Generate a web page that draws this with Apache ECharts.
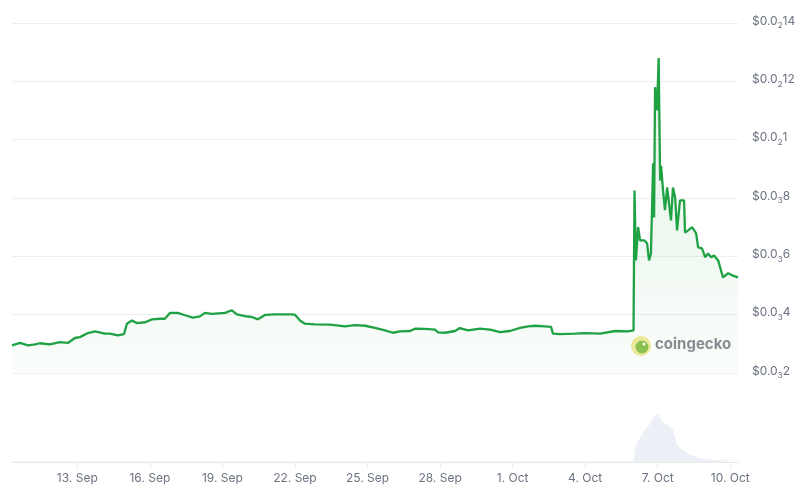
<!DOCTYPE html>
<html>
<head>
<meta charset="utf-8">
<script src="https://cdn.jsdelivr.net/npm/echarts@6/dist/echarts.min.js"></script>
<style>
html,body{margin:0;padding:0;background:#fff;}
#chart{width:800px;height:486px;}
</style>
</head>
<body>
<div id="chart"></div>
<script>
// x values are days since 1 Sep (00:00), fractional
const priceDays = [
  9.30, 9.63, 9.96, 10.25, 10.45, 10.87, 11.28, 11.61, 11.90, 12.11, 12.44, 12.73,
  13.14, 13.35, 13.68, 13.93, 14.01, 14.05, 14.26, 14.47, 14.80, 15.09, 15.42, 15.62,
  15.83, 16.16, 16.45, 16.78, 17.07, 17.28, 17.57, 18.11, 18.39, 18.60, 18.93, 19.22,
  19.47, 19.76, 20.17, 20.79, 21.00, 21.21, 21.41, 21.83, 22.45, 23.07, 23.48, 23.90,
  24.31, 24.72, 25.05, 25.34, 25.76, 25.96, 26.38, 26.79, 26.92, 27.20, 27.62, 27.82,
  28.16, 28.65, 29.07, 29.48, 29.89, 30.31, 30.64, 30.93, 31.34, 31.59, 31.67, 31.96,
  32.58, 33.00, 33.62, 34.24, 34.77, 35.00, 35.04, 35.10, 35.19, 35.27, 35.44, 35.56,
  35.64, 35.72, 35.81, 35.85, 35.89, 35.97, 36.04, 36.10, 36.14, 36.22, 36.30, 36.39,
  36.47, 36.55, 36.63, 36.72, 36.80, 36.92, 37.09, 37.13, 37.26, 37.42, 37.59, 37.67,
  37.83, 37.96, 38.08, 38.21, 38.33, 38.50, 38.58, 38.70, 38.91, 39.08, 39.32
];
const prices = [
  0.000295, 0.000303, 0.000295, 0.000298, 0.000302, 0.000298, 0.000306, 0.000303, 0.000320, 0.000323, 0.000337, 0.000343,
  0.000335, 0.000335, 0.000329, 0.000333, 0.000333, 0.000369, 0.000380, 0.000371, 0.000374, 0.000384, 0.000386, 0.000386,
  0.000406, 0.000406, 0.000398, 0.000390, 0.000394, 0.000406, 0.000403, 0.000406, 0.000415, 0.000401, 0.000395, 0.000392,
  0.000384, 0.000399, 0.000401, 0.000401, 0.000400, 0.000380, 0.000369, 0.000367, 0.000366, 0.000360, 0.000364, 0.000362,
  0.000355, 0.000346, 0.000338, 0.000343, 0.000344, 0.000352, 0.000351, 0.000349, 0.000339, 0.000338, 0.000344, 0.000354,
  0.000346, 0.000352, 0.000349, 0.000340, 0.000344, 0.000355, 0.000360, 0.000362, 0.000360, 0.000358, 0.000335, 0.000333,
  0.000335, 0.000337, 0.000335, 0.000344, 0.000343, 0.000346, 0.000826, 0.000586, 0.000700, 0.000655, 0.000655, 0.000645,
  0.000586, 0.000610, 0.000919, 0.000733, 0.001180, 0.001100, 0.001280, 0.000860, 0.000910, 0.000826, 0.000758, 0.000836,
  0.000836, 0.000723, 0.000836, 0.000802, 0.000689, 0.000792, 0.000792, 0.000682, 0.000689, 0.000700, 0.000679, 0.000631,
  0.000627, 0.000597, 0.000610, 0.000597, 0.000603, 0.000586, 0.000590, 0.000528, 0.000542, 0.000535, 0.000528
];
const volumeDays = [9.30, 21.21, 34.86, 35.02, 35.06, 35.15, 35.48, 35.68, 35.89, 36.01, 36.18, 36.43, 36.63, 36.80, 37.05, 37.34, 37.75, 38.37, 39.32];
const volumes =    [0.01, 0.01, 0.01, 0.02, 0.31, 0.40, 0.67, 0.79, 0.96, 1.00, 0.83, 0.77, 0.67, 0.35, 0.25, 0.15, 0.08, 0.04, 0.03];

const xTickDays = [12, 15, 18, 21, 24, 27, 30, 33, 36, 39];
const xTickLabels = ['13. Sep', '16. Sep', '19. Sep', '22. Sep', '25. Sep', '28. Sep', '1. Oct', '4. Oct', '7. Oct', '10. Oct'];
const yTickValues = [0.0002, 0.0004, 0.0006, 0.0008, 0.001, 0.0012, 0.0014];
// [prefix, subscript zero-count, significant digits]
const yTickLabels = [['$0.0','3','2'], ['$0.0','3','4'], ['$0.0','3','6'], ['$0.0','3','8'], ['$0.0','2','1'], ['$0.0','2','12'], ['$0.0','2','14']];

const chart = echarts.init(document.getElementById('chart'), null, {renderer: 'canvas'});
const labelColor = '#6b7280';
const font = 'Inter, "Noto Sans", sans-serif';

const option = {
  animation: false,
  backgroundColor: '#ffffff',
  grid: [
    {left: 12, right: 62, top: 23, bottom: 113},
    {left: 12, right: 62, top: 380, bottom: 24}
  ],
  xAxis: [
    {gridIndex: 0, type: 'value', min: 9.3, max: 39.32, show: false},
    {gridIndex: 1, type: 'value', min: 9.3, max: 39.32,
      axisLine: {show: true, lineStyle: {color: '#e8e8e8', width: 1}},
      axisTick: {show: true, customValues: xTickDays, length: 7, lineStyle: {color: '#eeeeee'}},
      splitLine: {show: false},
      axisLabel: {
        customValues: xTickDays,
        color: labelColor, fontSize: 12, fontFamily: font, margin: 10,
        formatter: function (v) {
          const i = xTickDays.findIndex(d => Math.abs(d - v) < 1e-6);
          return i >= 0 ? xTickLabels[i] : '';
        }
      }
    }
  ],
  yAxis: [
    {gridIndex: 0, type: 'value', position: 'right', min: 0.0002, max: 0.0014, interval: 0.0002,
      axisLine: {show: false}, axisTick: {show: false},
      splitLine: {show: true, lineStyle: {color: '#eeeeee', width: 1}},
      axisLabel: {
        margin: 14, color: labelColor, fontSize: 12, fontFamily: font, align: 'left',
        padding: [0, 0, 8, 0],
        formatter: function (v) {
          const i = yTickValues.findIndex(t => Math.abs(t - v) < 1e-9);
          if (i < 0) return '';
          const l = yTickLabels[i];
          return '{m|' + l[0] + '}{s|' + l[1] + '}{m|' + l[2] + '}';
        },
        rich: {
          m: {fontSize: 12, color: labelColor, fontFamily: font, verticalAlign: 'bottom', lineHeight: 16},
          s: {fontSize: 8, color: labelColor, fontFamily: font, verticalAlign: 'bottom', lineHeight: 16, padding: [0, 0, -3, 0]}
        }
      }
    },
    {gridIndex: 1, type: 'value', min: 0, max: 1.7, show: false, splitLine: {show: false}}
  ],
  series: [
    {
      type: 'line', xAxisIndex: 1, yAxisIndex: 1,
      data: volumeDays.map((d, i) => [d, volumes[i]]),
      showSymbol: false, symbol: 'none',
      lineStyle: {width: 0},
      areaStyle: {color: '#eceff5', opacity: 1},
      z: 1
    },
    {
      type: 'line', xAxisIndex: 0, yAxisIndex: 0,
      data: priceDays.map((d, i) => [d, prices[i]]),
      showSymbol: false, symbol: 'none',
      lineStyle: {color: '#1fa244', width: 2.3},
      areaStyle: {
        origin: 'start',
        color: new echarts.graphic.LinearGradient(0, 0, 0, 1, [
          {offset: 0, color: 'rgba(34,164,71,0.20)'},
          {offset: 1, color: 'rgba(34,164,71,0.03)'}
        ])
      },
      z: 3
    }
  ],
  graphic: [
    {type: 'circle', shape: {cx: 641, cy: 346, r: 10}, style: {fill: '#ece89a'}, z: 10},
    {type: 'circle', shape: {cx: 642, cy: 347, r: 6.5}, style: {fill: '#8cc151'}, z: 11},
    {type: 'circle', shape: {cx: 644, cy: 344, r: 1.5}, style: {fill: '#ffffff'}, z: 12},
    {type: 'text', left: 655, top: 337, style: {text: 'coingecko', fontSize: 15, fontWeight: 'bold', fill: '#878c93', fontFamily: font}, z: 10}
  ]
};
chart.setOption(option);
</script>
</body>
</html>
